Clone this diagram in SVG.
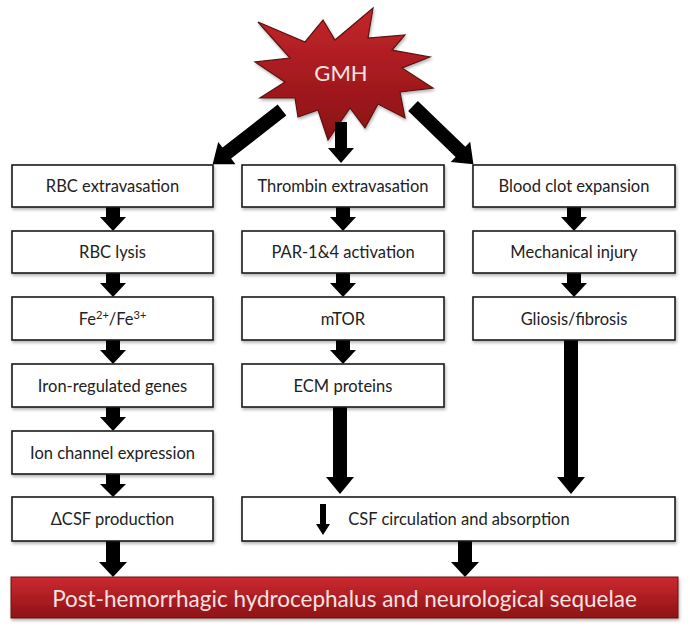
<svg xmlns="http://www.w3.org/2000/svg" width="690" height="626" viewBox="0 0 690 626">
<defs>
<linearGradient id="red" x1="0" y1="0" x2="0" y2="1">
<stop offset="0" stop-color="#cc2a30"/>
<stop offset="1" stop-color="#8e1216"/>
</linearGradient>
<linearGradient id="starred" x1="0" y1="0" x2="0" y2="1">
<stop offset="0" stop-color="#c4262c"/>
<stop offset="1" stop-color="#8a1014"/>
</linearGradient>
<filter id="sh" x="-5%" y="-10%" width="110%" height="130%">
<feDropShadow dx="1" dy="2" stdDeviation="1.5" flood-color="#000" flood-opacity="0.3"/>
</filter>
</defs>
<style>
.box{fill:#fff;stroke:#1a1a1a;stroke-width:1.6;filter:url(#sh)}
.t{font-family:Lato,"Open Sans",sans-serif;font-size:16.5px;fill:#222;text-anchor:middle;dominant-baseline:central}
.w{font-family:Lato,"Open Sans",sans-serif;fill:#f6e2e2;text-anchor:middle;dominant-baseline:central}
.a{fill:#000}
</style>
<rect width="690" height="626" fill="#fff"/>
<g id="gmh">
<polygon points="258,22 305,42 323,20 335,40 373,8 368,38 405,35 392,50 430,57 402,68 433,88 400,92 405,118 378,104 365,128 350,108 328,140 318,110 298,117 295,98 260,98 285,82 255,62 290,58" fill="url(#starred)" stroke="#5a1212" stroke-width="1.2" filter="url(#sh)"/>
<text class="w" x="341" y="72" font-size="22">GMH</text>
</g>
<g id="connectors">
<polygon class="a" transform="translate(282,110) rotate(52)" points="-7,0 7,0 7,70 14,70 0,88 -14,70 -7,70"/>
<polygon class="a" transform="translate(413,106) rotate(-46)" points="-7,0 7,0 7,66 14,66 0,84 -14,66 -7,66"/>
<polygon class="a" points="335,122 347,122 347,148 354,148 341,163 328,148 335,148"/>
<g id="small">
<polygon class="a" points="106,207 120,207 120,217 126,217 113,231 100,217 106,217"/>
<polygon class="a" points="106,273 120,273 120,283 126,283 113,297 100,283 106,283"/>
<polygon class="a" points="106,340 120,340 120,350 126,350 113,364 100,350 106,350"/>
<polygon class="a" points="106,407 120,407 120,417 126,417 113,431 100,417 106,417"/>
<polygon class="a" points="106,474 120,474 120,484 126,484 113,497 100,484 106,484"/>
<polygon class="a" points="336,207 350,207 350,217 356,217 343,231 330,217 336,217"/>
<polygon class="a" points="336,273 350,273 350,283 356,283 343,297 330,283 336,283"/>
<polygon class="a" points="336,340 350,340 350,350 356,350 343,364 330,350 336,350"/>
<polygon class="a" points="567,207 581,207 581,217 587,217 574,231 561,217 567,217"/>
<polygon class="a" points="567,273 581,273 581,283 587,283 574,297 561,283 567,283"/>
</g>
<polygon class="a" points="333,407 347,407 347,477 354,477 340,494 326,477 333,477"/>
<polygon class="a" points="564,340 578,340 578,477 585,477 571,494 557,477 564,477"/>
<polygon class="a" points="106,541 120,541 120,562 127,562 113,577 99,562 106,562"/>
<polygon class="a" points="458,541 472,541 472,562 479,562 465,577 451,562 458,562"/>
</g>
<g id="rbc-extravasation"><rect class="box" x="12" y="165" width="201" height="42"/><text class="t" x="112.5" y="186">RBC extravasation</text></g>
<g id="rbc-lysis"><rect class="box" x="12" y="231" width="201" height="42"/><text class="t" x="112.5" y="252">RBC lysis</text></g>
<g id="fe"><rect class="box" x="12" y="297" width="201" height="43"/><text class="t" x="112.5" y="318.5">Fe<tspan font-size="11" dy="-5">2+</tspan><tspan dy="5">/Fe</tspan><tspan font-size="11" dy="-5">3+</tspan></text></g>
<g id="iron-genes"><rect class="box" x="12" y="364" width="201" height="43"/><text class="t" x="112.5" y="385.5">Iron-regulated genes</text></g>
<g id="ion-channel"><rect class="box" x="12" y="431" width="201" height="43"/><text class="t" x="112.5" y="452.5">Ion channel expression</text></g>
<g id="csf-production"><rect class="box" x="12" y="497" width="201" height="44"/><text class="t" x="112.5" y="519">ΔCSF production</text></g>
<g id="thrombin"><rect class="box" x="242" y="165" width="202" height="42"/><text class="t" x="343" y="186">Thrombin extravasation</text></g>
<g id="par"><rect class="box" x="242" y="231" width="202" height="42"/><text class="t" x="343" y="252">PAR-1&amp;4 activation</text></g>
<g id="mtor"><rect class="box" x="242" y="297" width="202" height="43"/><text class="t" x="343" y="318.5">mTOR</text></g>
<g id="ecm"><rect class="box" x="242" y="364" width="202" height="43"/><text class="t" x="343" y="385.5">ECM proteins</text></g>
<g id="clot"><rect class="box" x="473" y="165" width="202" height="42"/><text class="t" x="574" y="186">Blood clot expansion</text></g>
<g id="mech"><rect class="box" x="473" y="231" width="202" height="42"/><text class="t" x="574" y="252">Mechanical injury</text></g>
<g id="gliosis"><rect class="box" x="473" y="297" width="202" height="43"/><text class="t" x="574" y="318.5">Gliosis/fibrosis</text></g>
<g id="csf-circ"><rect class="box" x="242" y="497" width="433" height="44"/>
<polygon class="a" points="320,504 326,504 326,524 330,524 323,535 316,524 320,524"/>
<text class="t" x="459" y="519">CSF circulation and absorption</text></g>
<g id="outcome"><rect x="11" y="577" width="667" height="41" fill="url(#red)" stroke="#6a1010" stroke-width="1" filter="url(#sh)"/>
<text class="w" x="344.5" y="598" font-size="22.5">Post-hemorrhagic hydrocephalus and neurological sequelae</text></g>
</svg>
